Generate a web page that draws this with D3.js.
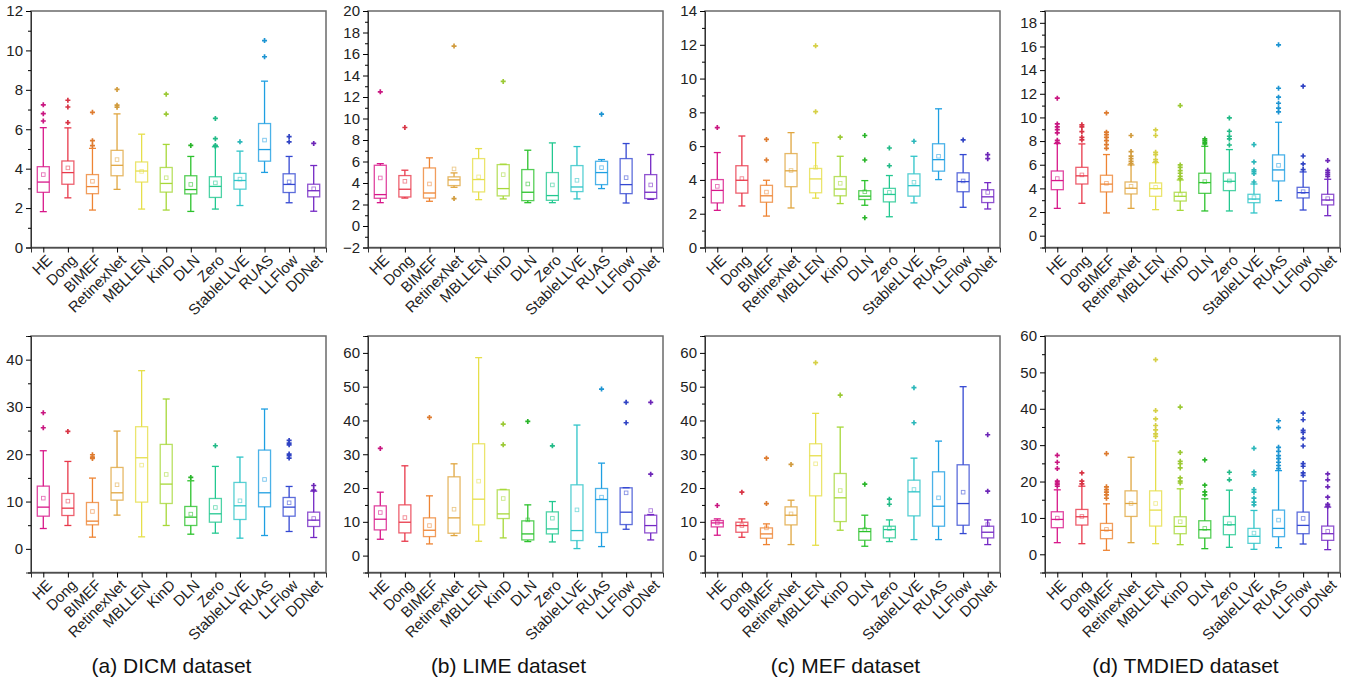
<!DOCTYPE html>
<html>
<head>
<meta charset="utf-8">
<script src="https://cdn.jsdelivr.net/npm/d3@7"></script>
<style>
  body { margin: 0; background: #fff; }
  text { font-family: "Liberation Sans", Arial, sans-serif; }
</style>
</head>
<body>
<svg id="chart" width="1364" height="687"></svg>
<script>
var methods = ["HE", "Dong", "BIMEF", "RetinexNet", "MBLLEN", "KinD", "DLN", "Zero",
  "StableLLVE", "RUAS", "LLFlow", "DDNet"];
var colors = ["#d8178a", "#e8384a", "#ee8433", "#e0a640", "#e6df4a", "#a6d838",
  "#2cc22c", "#22c890", "#2ec4c8", "#1e9fe2", "#3448d2", "#7428c4"];

// one row per method: [whisker low, Q1, median, Q3, whisker high, mean]
var dicmTop = [
  [1.82, 2.8, 3.32, 4.1, 6.08, 3.7], [2.52, 3.21, 3.8, 4.39, 6.07, 4.04],
  [1.9, 2.73, 3.09, 3.7, 5.03, 3.36], [2.95, 3.64, 4.17, 4.93, 6.78, 4.46],
  [1.95, 3.32, 3.88, 4.34, 5.75, 3.86], [1.9, 2.81, 3.25, 4.06, 5.23, 3.54],
  [1.83, 2.72, 2.94, 3.64, 4.62, 3.2], [1.95, 2.54, 3.1, 3.59, 5.11, 3.28],
  [2.13, 2.96, 3.4, 3.76, 4.89, 3.47], [3.81, 4.38, 4.97, 6.29, 8.44, 5.45],
  [2.27, 2.79, 3.2, 3.74, 4.62, 3.33], [1.84, 2.57, 2.88, 3.21, 4.16, 2.98]];
var dicmTopOut = [[7.24, 6.79, 6.42], [7.47, 7.13, 6.34], [6.86, 5.42, 5.17],
  [8.02, 7.22, 7.12], [], [7.78, 6.77], [5.18], [6.55, 5.52, 5.18, 5.14], [5.36],
  [10.5, 9.68], [5.63, 5.36], [5.28]];

var limeTop = [
  [2.17, 2.58, 2.92, 5.65, 5.8, 4.47], [2.6, 2.7, 3.42, 4.69, 5.19, 4.16],
  [2.3, 2.6, 3.07, 5.4, 6.34, 3.91], [3.6, 3.76, 4.29, 4.57, 4.94, 5.31],
  [2.45, 3.17, 4.32, 6.27, 7.2, 4.57], [2.52, 2.8, 3.48, 5.71, 5.75, 4.78],
  [2.17, 2.36, 3.14, 5.25, 7.05, 3.91], [2.17, 2.39, 2.83, 4.97, 7.73, 3.82],
  [2.52, 3.2, 3.63, 5.62, 7.39, 4.25], [3.48, 3.85, 4.97, 6.02, 6.18, 5.43],
  [2.14, 3.01, 3.85, 6.27, 7.67, 4.5], [2.48, 2.55, 3.14, 4.78, 6.65, 3.82]];
var limeTopOut = [[12.48], [9.16], [], [16.74, 2.55], [], [13.45], [], [], [], [10.4], [], []];

var mefTop = [
  [2.2, 2.64, 3.38, 4.02, 5.62, 3.62], [2.46, 3.22, 3.98, 4.84, 6.6, 4.08],
  [1.86, 2.68, 3.06, 3.68, 3.98, 3.28], [2.34, 3.6, 4.54, 5.56, 6.8, 4.56],
  [2.92, 3.24, 4.06, 4.68, 6.2, 4.74], [2.6, 3.06, 3.46, 4.2, 5.4, 3.8],
  [2.5, 2.84, 3.04, 3.36, 3.96, 3.3], [1.82, 2.7, 3.14, 3.5, 4.26, 3.26],
  [2.64, 3.04, 3.66, 4.36, 5.4, 3.86], [4.02, 4.52, 5.2, 6.14, 8.21, 5.4],
  [2.38, 3.3, 3.9, 4.42, 5.5, 3.94], [2.28, 2.66, 3.0, 3.42, 3.84, 3.26]];
var mefTopOut = [[7.1], [], [6.4, 5.18], [], [11.94, 8.04], [6.53], [6.63, 5.18, 1.76],
  [5.89, 4.84], [6.29], [], [6.37], [5.5, 5.26]];

var tmdiedTop = [
  [2.31, 3.89, 4.66, 5.47, 7.79, 4.83], [2.74, 4.37, 5.06, 5.78, 7.76, 5.14],
  [1.92, 3.7, 4.36, 5.11, 6.86, 4.43], [2.31, 3.53, 4.01, 4.54, 5.98, 4.18],
  [2.2, 3.33, 3.98, 4.46, 6.18, 4.09], [2.14, 2.93, 3.33, 3.67, 4.71, 3.47],
  [2.09, 3.58, 4.49, 5.28, 7.56, 4.57], [2.09, 3.81, 4.6, 5.3, 7.28, 4.63],
  [1.92, 2.79, 3.1, 3.5, 4.37, 3.22], [2.96, 4.63, 5.56, 6.83, 9.59, 5.95],
  [2.17, 3.19, 3.64, 4.09, 5.39, 3.72], [1.69, 2.6, 3.02, 3.5, 4.77, 3.13]];
var tmdiedTopOut = [[11.63, 9.45, 9.2, 8.97, 8.69, 8.07, 7.9], [9.37, 9.2, 8.8, 8.32, 8.1],
  [10.38, 8.75, 8.55, 8.32, 8.04, 7.7, 7.39], [8.47, 7.11, 6.72, 6.52, 6.29, 6.09],
  [8.94, 8.47, 7.05, 6.86, 6.43, 6.24], [11.0, 5.98, 5.78, 5.5, 5.28, 5.02, 4.8],
  [8.18, 8.04, 7.9, 7.76], [9.96, 8.83, 8.41, 8.18, 7.67],
  [7.7, 6.24, 5.56, 5.42, 5.25, 4.54], [16.14, 12.47, 11.71, 11.2, 10.78, 10.47],
  [12.64, 6.74, 6.07, 5.59], [6.35, 5.53, 5.36, 5.19, 5.02]];

var dicmBottom = [
  [4.3, 6.91, 8.82, 13.26, 20.74, 10.72], [4.94, 7.05, 8.6, 11.71, 18.48, 10.09],
  [2.47, 5.08, 5.86, 9.8, 14.96, 7.9], [7.13, 10.3, 11.85, 17.21, 24.9, 13.55],
  [2.54, 9.88, 19.26, 25.82, 37.67, 17.7], [4.94, 9.59, 13.69, 22.08, 31.68, 15.73],
  [3.1, 4.94, 6.7, 8.96, 14.39, 7.34], [3.32, 5.64, 7.41, 10.65, 17.43, 8.75],
  [2.26, 6.21, 9.1, 14.04, 19.4, 10.16], [2.82, 8.89, 11.85, 20.88, 29.56, 14.67],
  [3.67, 6.91, 8.82, 10.86, 13.19, 9.74], [2.4, 4.73, 6.07, 7.76, 12.2, 6.42]];
var dicmBottomOut = [[28.78, 25.6], [24.83], [19.9, 19.4, 19.1], [], [], [], [15.1], [21.8],
  [], [], [22.93, 22.36, 22.0, 20.04, 19.68, 19.19], [13.4, 12.4]];

var limeBottom = [
  [4.84, 7.61, 10.77, 14.72, 18.77, 12.75], [4.25, 6.72, 9.88, 15.02, 26.58, 11.26],
  [3.46, 5.63, 7.51, 11.17, 17.69, 8.89], [5.93, 6.62, 11.17, 23.32, 27.17, 13.73],
  [4.25, 9.09, 16.7, 33.1, 58.6, 22.04], [5.24, 10.97, 12.35, 19.47, 19.6, 16.9],
  [4.15, 4.64, 6.42, 10.28, 15.02, 10.57], [4.05, 6.42, 7.9, 12.94, 16.0, 11.07],
  [2.08, 4.45, 7.41, 20.95, 38.64, 13.54], [2.67, 6.82, 16.6, 19.86, 27.37, 17.3],
  [7.8, 9.19, 12.85, 20.06, 20.1, 18.58], [4.64, 6.72, 8.89, 11.96, 12.15, 13.34]];
var limeBottomOut = [[31.72], [], [40.9], [], [], [38.93, 32.8], [39.72], [32.5], [],
  [49.3], [45.36, 39.33], [45.36, 24.1]];

var mefBottom = [
  [6.03, 8.5, 9.68, 10.38, 10.87, 9.68], [5.43, 6.92, 8.89, 9.88, 10.87, 8.9],
  [3.26, 5.14, 6.42, 8.2, 9.39, 8.2], [3.26, 9.09, 11.96, 14.43, 16.4, 12.35],
  [3.06, 17.69, 29.55, 33.1, 42.1, 27.17], [7.51, 10.08, 17.1, 24.3, 38.04, 19.27],
  [2.77, 4.55, 7.11, 8.0, 11.96, 7.7], [4.15, 5.24, 7.7, 8.7, 10.57, 8.0],
  [4.74, 11.76, 18.87, 22.33, 28.85, 19.57], [4.74, 8.7, 14.62, 24.8, 33.89, 17.1],
  [6.52, 8.99, 15.41, 26.88, 50.0, 18.77], [3.26, 5.24, 6.92, 8.7, 10.57, 9.19]];
var mefBottomOut = [[14.82], [18.77], [28.85, 15.41], [26.98], [57.1], [47.5], [21.15],
  [16.7, 15.2], [49.7, 39.33], [], [], [35.77, 19.07]];

var tmdiedBottom = [
  [3.2, 7.31, 9.59, 11.69, 17.72, 9.95], [2.92, 8.04, 10.32, 12.33, 18.72, 10.41],
  [1.1, 4.29, 6.58, 8.49, 13.88, 6.85], [3.2, 10.41, 13.97, 17.44, 26.67, 13.97],
  [2.92, 7.76, 12.15, 17.44, 31.14, 13.97], [2.65, 5.66, 7.67, 10.32, 18.0, 8.95],
  [1.55, 4.47, 6.76, 9.22, 15.25, 7.12], [1.92, 5.39, 8.13, 10.41, 17.63, 8.4],
  [1.37, 3.01, 4.93, 7.12, 12.05, 5.84], [1.83, 4.84, 7.12, 12.15, 23.0, 9.4],
  [2.83, 5.66, 7.95, 11.6, 20.18, 9.86], [1.28, 3.84, 5.66, 7.76, 12.97, 6.3]];
var tmdiedBottomOut = [[27.2, 25.3, 23.56, 20.1, 19.6, 19.2, 18.7], [22.37, 20.1, 19.36],
  [27.67, 18.54, 17.8, 17.08, 16.35, 15.4], [],
  [53.5, 39.5, 37.2, 35.4, 34.2, 33.1, 32.4],
  [40.46, 28.0, 25.57, 24.93, 23.74, 21.0, 20.1, 19.6], [25.94, 19.0, 17.17, 16.35],
  [22.56, 20.46], [29.13, 22.65, 21.92, 17.8, 17.08, 15.43, 14.34, 13.6],
  [36.7, 34.8, 29.4, 28.3, 27.1, 26.3, 25.3, 24.4, 23.56],
  [38.8, 36.99, 34.06, 33.5, 31.87, 29.77, 24.93, 24.2, 22.37, 21.7],
  [22.1, 20.46, 18.54, 15.7, 13.7, 13.24]];

var captions = ["(a) DICM dataset", "(b) LIME dataset", "(c) MEF dataset", "(d) TMDIED dataset"];
var topDomains = [[0, 12], [-2, 20], [0, 14], [-1, 19]];
var bottomDomains = [[-5, 45], [-5, 65], [-5, 65], [-5, 60]];
var topTicks = [[0, 2, 4, 6, 8, 10, 12], [-2, 0, 2, 4, 6, 8, 10, 12, 14, 16, 18, 20],
  [0, 2, 4, 6, 8, 10, 12, 14], [0, 2, 4, 6, 8, 10, 12, 14, 16, 18]];
var bottomTicks = [[0, 10, 20, 30, 40], [0, 10, 20, 30, 40, 50, 60],
  [0, 10, 20, 30, 40, 50, 60], [0, 10, 20, 30, 40, 50, 60]];

var svg = d3.select("#chart");
var colX = [31, 368, 705, 1045];
var rowY = [11, 336];
var panelW = 295, panelH = 236.5;

function drawPanel(px, py, stats, outs, domain, ticks) {
  var g = svg.append("g");
  var x = d3.scalePoint().domain(methods).range([px, px + panelW]).padding(0.5);
  var y = d3.scaleLinear().domain(domain).range([py + panelH, py]);
  var step = ticks[1] - ticks[0];
  var minor = d3.range(domain[0], domain[1] + 0.001, step / 2)
    .filter((v) => ticks.indexOf(v) < 0);

  // frame
  g.append("rect")
    .attr("x", px).attr("y", py)
    .attr("width", panelW).attr("height", panelH)
    .attr("fill", "none").attr("stroke", "#6a6a6a").attr("stroke-width", 1.5);

  // y axis
  var ya = g.append("g")
    .attr("transform", "translate(" + px + ",0)")
    .call(d3.axisLeft(y).tickValues(ticks).tickSize(5).tickPadding(3));
  ya.select(".domain").attr("stroke", "#333");
  ya.selectAll("text").style("font-size", "15px").attr("fill", "#222");
  g.append("g")
    .attr("transform", "translate(" + px + ",0)")
    .call(d3.axisLeft(y).tickValues(minor).tickSize(3).tickFormat(""))
    .select(".domain").remove();

  // x axis
  var xa = g.append("g")
    .attr("transform", "translate(0," + (py + panelH) + ")")
    .call(d3.axisBottom(x).tickSize(5));
  xa.select(".domain").attr("stroke", "#333");
  xa.selectAll("text")
    .style("font-size", "15px").attr("fill", "#222")
    .style("text-anchor", "end")
    .attr("dx", "-0.2em").attr("dy", "0.55em")
    .attr("transform", "rotate(-45)");

  var bw = 12, cw = 7;
  methods.forEach((m, i) => {
    var s = stats[i], cx = x(m), c = colors[i];
    var bg = g.append("g").attr("stroke", c).attr("fill", "none").attr("stroke-width", 1.3);
    bg.append("line").attr("x1", cx).attr("x2", cx).attr("y1", y(s[0])).attr("y2", y(s[1]));
    bg.append("line").attr("x1", cx).attr("x2", cx).attr("y1", y(s[3])).attr("y2", y(s[4]));
    bg.append("line").attr("x1", cx - cw / 2).attr("x2", cx + cw / 2)
      .attr("y1", y(s[0])).attr("y2", y(s[0]));
    bg.append("line").attr("x1", cx - cw / 2).attr("x2", cx + cw / 2)
      .attr("y1", y(s[4])).attr("y2", y(s[4]));
    bg.append("rect")
      .attr("x", cx - bw / 2).attr("y", y(s[3]))
      .attr("width", bw).attr("height", y(s[1]) - y(s[3]))
      .attr("stroke-opacity", 0.8);
    bg.append("line").attr("x1", cx - bw / 2).attr("x2", cx + bw / 2)
      .attr("y1", y(s[2])).attr("y2", y(s[2]));
    bg.append("rect")
      .attr("x", cx - 1.8).attr("y", y(s[5]) - 1.8)
      .attr("width", 3.6).attr("height", 3.6)
      .attr("stroke-width", 0.9).attr("stroke-opacity", 0.6);

    g.selectAll(null)
      .data(outs[i])
      .enter()
      .append("path")
      .attr("d", d3.symbol(d3.symbolCross, 14))
      .attr("transform", (d) => "translate(" + cx + "," + y(d) + ")")
      .attr("fill", d3.color(c).darker(0.2));
  });
}

var topSets = [[dicmTop, dicmTopOut], [limeTop, limeTopOut], [mefTop, mefTopOut], [tmdiedTop, tmdiedTopOut]];
var bottomSets = [[dicmBottom, dicmBottomOut], [limeBottom, limeBottomOut],
  [mefBottom, mefBottomOut], [tmdiedBottom, tmdiedBottomOut]];

for (var k = 0; k < 4; k++) {
  drawPanel(colX[k], rowY[0], topSets[k][0], topSets[k][1], topDomains[k], topTicks[k]);
  drawPanel(colX[k], rowY[1], bottomSets[k][0], bottomSets[k][1], bottomDomains[k], bottomTicks[k]);
}

svg.selectAll(".caption")
  .data(captions)
  .enter()
  .append("text")
  .attr("class", "caption")
  .attr("x", (d, i) => colX[i] + panelW / 2 - 7)
  .attr("y", 673)
  .attr("text-anchor", "middle")
  .style("font-size", "21px")
  .attr("fill", "#111")
  .text((d) => d);
</script>
</body>
</html>
